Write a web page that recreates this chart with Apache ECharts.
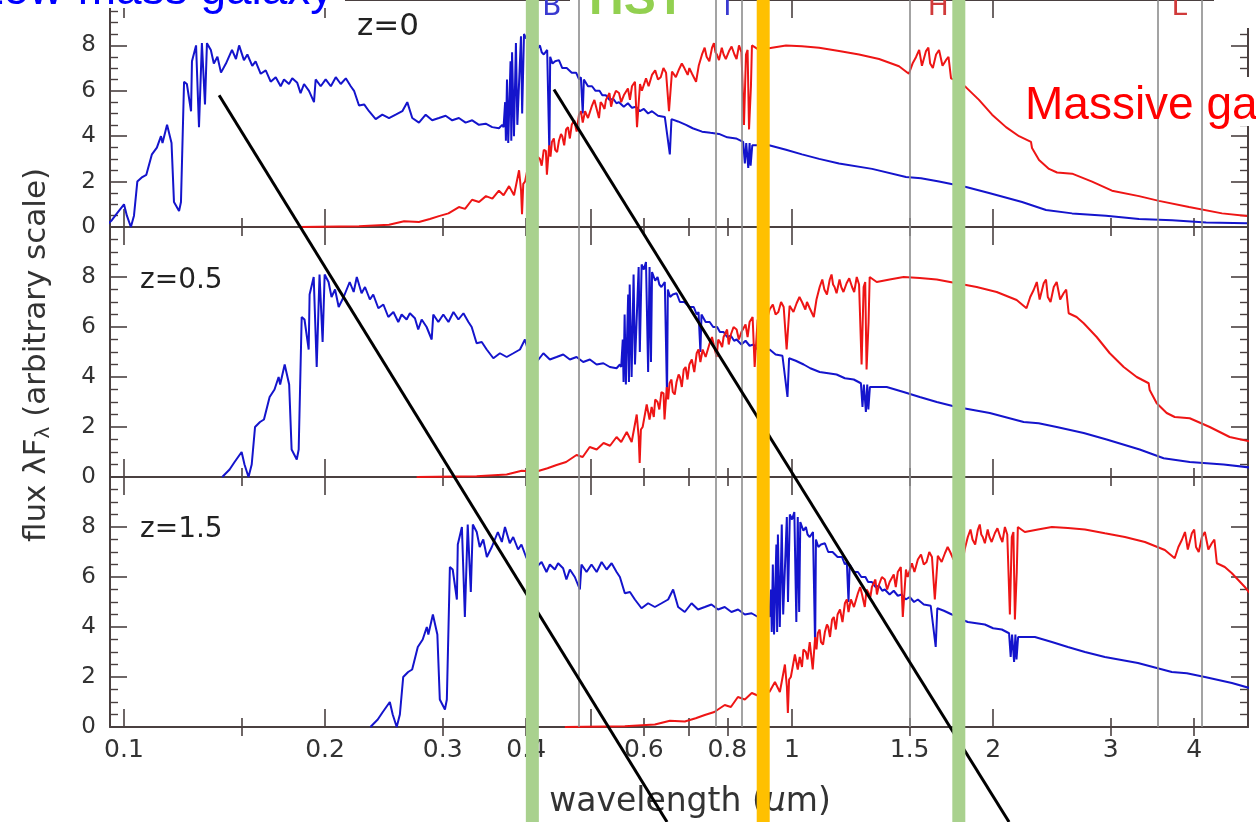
<!DOCTYPE html>
<html><head><meta charset="utf-8">
<script src="https://cdn.jsdelivr.net/npm/echarts@6/dist/echarts.min.js"></script>
<style>html,body{margin:0;padding:0;background:#fff}#c{width:1256px;height:822px}</style>
</head><body><div id="c"></div>
<script>
// ---------- data ----------
const xTickMajor = [0.1, 0.2, 0.5, 1, 2];
const xTickMinor = [0.15, 0.3, 0.4, 0.6, 0.7, 0.8, 0.9, 1.5, 3, 4];
const xTickLabels = [0.1, 0.2, 0.3, 0.4, 0.6, 0.8, 1, 1.5, 2, 3, 4];
const yTickLabels = [0, 2, 4, 6, 8];
const filterEdges = [0.480, 0.767, 0.836, 1.502, 3.53, 4.11];
const panelLabels = ['z=0', 'z=0.5', 'z=1.5'];
const bandLetters = [['B', 0.437], ['I', 0.800], ['H', 1.655], ['L', 3.80]];

// low-mass galaxy flux (same in all three panels)
const blueFlux = [
0.0,0.3,0.6,1.0,0.5,0.0,0.5,2.0,2.2,2.3,
3.2,3.5,4.0,3.7,4.5,3.7,1.1,0.7,1.1,6.4,
6.3,5.1,7.3,8.0,4.4,8.1,5.4,8.1,7.8,7.2,
7.5,6.8,7.2,7.8,7.4,8.0,7.35,7.6,7.1,7.3,
6.75,6.9,6.4,6.6,6.2,6.5,6.3,6.55,6.35,5.9,
6.3,6.0,5.5,6.5,6.2,6.5,6.2,6.6,6.3,6.55,
6.2,6.0,5.35,5.4,5.1,4.75,4.95,4.8,4.95,5.1,
5.5,4.8,4.6,4.95,4.7,4.8,4.9,4.7,4.8,4.6,
4.7,4.5,4.55,4.4,4.35,4.5,4.4,5.5,3.8,6.5,
3.7,7.3,3.8,7.7,4.0,8.1,4.5,8.4,5.0,8.5,
8.3,8.6,4.2,8.4,4.6,8.2,7.85,8.0,7.7,7.6,
7.8,3.2,7.5,7.2,7.3,7.35,7.0,7.0,6.8,6.8,
6.5,6.6,5.0,6.5,6.2,6.2,6.0,6.0,5.8,5.8,
5.6,5.65,5.45,5.5,5.3,5.45,5.25,5.3,5.1,5.2,
5.0,5.1,4.9,4.85,3.2,4.75,4.65,4.5,4.35,4.2,
4.15,4.1,3.95,3.9,3.75,2.8,3.7,2.6,3.7,2.7,
3.6,3.6,3.4,3.2,3.0,2.8,2.56,2.2,2.15,2.0,
1.76,1.5,1.1,0.75,0.6,0.5,0.35,0.3,0.2,0.17];
const blueWaveZ0 = [
0.0935,0.0959,0.0976,0.1000,0.1010,0.1024,0.1035,0.1047,0.1065,0.1080,
0.1101,0.1120,0.1136,0.1142,0.1160,0.1178,0.1188,0.1209,0.1217,0.1230,
0.1242,0.1260,0.1264,0.1282,0.1295,0.1308,0.1322,0.1331,0.1349,0.1363,
0.1380,0.1397,0.1421,0.1451,0.1471,0.1487,0.1512,0.1530,0.1556,0.1574,
0.1602,0.1630,0.1658,0.1687,0.1716,0.1736,0.1766,0.1786,0.1817,0.1838,
0.1860,0.1892,0.1925,0.1936,0.1970,0.2004,0.2040,0.2075,0.2111,0.2148,
0.2185,0.2210,0.2248,0.2288,0.2327,0.2381,0.2436,0.2493,0.2551,0.2610,
0.2655,0.2701,0.2764,0.2829,0.2893,0.2961,0.3030,0.3100,0.3172,0.3246,
0.3321,0.3399,0.3479,0.3558,0.3641,0.3683,0.3700,0.3720,0.3730,0.3744,
0.3760,0.3790,0.3800,0.3810,0.3835,0.3861,0.3880,0.3929,0.3945,0.3970,
0.4000,0.4030,0.4060,0.4080,0.4100,0.4115,0.4160,0.4194,0.4220,0.4250,
0.4300,0.4333,0.4345,0.4380,0.4420,0.4478,0.4530,0.4600,0.4680,0.4751,
0.4800,0.4830,0.4861,0.4880,0.4950,0.5019,0.5080,0.5150,0.5200,0.5266,
0.5330,0.5400,0.5460,0.5508,0.5600,0.5680,0.5760,0.5840,0.5920,0.6000,
0.6090,0.6171,0.6300,0.6450,0.6563,0.6600,0.6750,0.6939,0.7100,0.7333,
0.7550,0.7775,0.8000,0.8244,0.8450,0.8500,0.8540,0.8600,0.8640,0.8670,
0.8720,0.9239,0.9795,1.035,1.098,1.176,1.318,1.481,1.560,1.660,
1.822,1.972,2.210,2.400,2.626,2.951,3.307,3.707,4.168,4.799];
const blueWaveZ05 = [
0.1403,0.1439,0.1464,0.1500,0.1515,0.1536,0.1553,0.1571,0.1598,0.1620,
0.1652,0.1680,0.1704,0.1713,0.1740,0.1767,0.1782,0.1814,0.1826,0.1845,
0.1863,0.1890,0.1896,0.1923,0.1943,0.1962,0.1983,0.1997,0.2024,0.2045,
0.2070,0.2096,0.2132,0.2177,0.2207,0.2231,0.2268,0.2295,0.2334,0.2361,
0.2403,0.2445,0.2487,0.2531,0.2574,0.2604,0.2649,0.2679,0.2726,0.2757,
0.2790,0.2838,0.2888,0.2904,0.2955,0.3006,0.3060,0.3113,0.3167,0.3222,
0.3278,0.3315,0.3372,0.3432,0.3491,0.3572,0.3654,0.3740,0.3827,0.3915,
0.3983,0.4052,0.4146,0.4244,0.4340,0.4442,0.4545,0.4650,0.4758,0.4869,
0.4982,0.5099,0.5219,0.5337,0.5462,0.5525,0.5550,0.5580,0.5595,0.5616,
0.5640,0.5685,0.5700,0.5715,0.5753,0.5792,0.5820,0.5894,0.5918,0.5955,
0.6000,0.6045,0.6090,0.6120,0.6150,0.6173,0.6240,0.6291,0.6330,0.6375,
0.6450,0.6500,0.6518,0.6570,0.6630,0.6717,0.6795,0.6900,0.7020,0.7127,
0.7200,0.7245,0.7292,0.7320,0.7425,0.7529,0.7620,0.7725,0.7800,0.7899,
0.7995,0.8100,0.8190,0.8262,0.8400,0.8520,0.8640,0.8760,0.8880,0.9000,
0.9135,0.9257,0.9450,0.9675,0.9845,0.9900,1.013,1.041,1.065,1.100,
1.133,1.166,1.200,1.237,1.268,1.275,1.281,1.290,1.296,1.301,
1.308,1.386,1.469,1.553,1.647,1.764,1.977,2.222,2.340,2.490,
2.733,2.958,3.315,3.600,3.939,4.427,4.961,5.561,6.252,7.199];
const blueWaveZ15 = [
0.2338,0.2398,0.2440,0.2500,0.2525,0.2560,0.2588,0.2618,0.2663,0.2700,
0.2753,0.2800,0.2840,0.2855,0.2900,0.2945,0.2970,0.3023,0.3043,0.3075,
0.3105,0.3150,0.3160,0.3205,0.3238,0.3270,0.3305,0.3328,0.3373,0.3408,
0.3450,0.3493,0.3553,0.3628,0.3678,0.3718,0.3780,0.3825,0.3890,0.3935,
0.4005,0.4075,0.4145,0.4218,0.4290,0.4340,0.4415,0.4465,0.4543,0.4595,
0.4650,0.4730,0.4813,0.4840,0.4925,0.5010,0.5100,0.5188,0.5278,0.5370,
0.5463,0.5525,0.5620,0.5720,0.5818,0.5953,0.6090,0.6233,0.6378,0.6525,
0.6638,0.6753,0.6910,0.7073,0.7233,0.7403,0.7575,0.7750,0.7930,0.8115,
0.8303,0.8498,0.8698,0.8895,0.9103,0.9208,0.9250,0.9300,0.9325,0.9360,
0.9400,0.9475,0.9500,0.9525,0.9588,0.9653,0.9700,0.9823,0.9863,0.9925,
1.000,1.008,1.015,1.020,1.025,1.029,1.040,1.049,1.055,1.063,
1.075,1.083,1.086,1.095,1.105,1.120,1.133,1.150,1.170,1.188,
1.200,1.208,1.215,1.220,1.238,1.255,1.270,1.288,1.300,1.317,
1.333,1.350,1.365,1.377,1.400,1.420,1.440,1.460,1.480,1.500,
1.523,1.543,1.575,1.613,1.641,1.650,1.688,1.735,1.775,1.833,
1.888,1.944,2.000,2.061,2.113,2.125,2.135,2.150,2.160,2.168,
2.180,2.310,2.449,2.588,2.745,2.940,3.295,3.703,3.900,4.150,
4.555,4.930,5.525,6.000,6.565,7.378,8.268,9.268,10.42,12.00];

// massive galaxy flux (same in all three panels)
const redFlux = [
0.0,0.03,0.1,0.25,0.22,0.35,0.48,0.6,0.88,0.8,
1.2,1.1,1.36,1.25,1.6,1.4,1.8,1.4,2.5,1.6,
0.56,1.9,2.0,2.9,2.3,2.8,2.4,3.1,3.0,2.7,
3.4,3.35,2.3,3.6,3.1,3.75,3.9,3.4,3.3,3.8,
4.1,4.0,3.6,4.3,4.4,3.9,4.5,4.7,4.2,4.95,
5.1,4.6,5.1,4.8,5.35,5.6,5.3,4.8,5.5,5.4,
5.2,5.6,5.9,5.3,5.7,6.0,5.9,5.5,5.8,6.1,
5.6,6.2,6.4,4.4,6.3,6.0,6.55,6.2,6.7,6.9,
6.5,6.6,7.0,6.8,5.1,6.85,6.6,6.95,7.2,7.0,
6.7,7.0,6.75,6.4,7.1,7.6,7.9,7.5,7.3,7.9,
8.1,7.7,7.6,7.35,7.9,7.6,7.4,7.75,7.95,7.6,
7.4,8.0,7.7,4.5,7.6,7.8,4.3,6.2,8.0,7.8,
7.9,8.0,7.96,7.9,7.75,7.6,7.4,7.08,6.75,7.2,
7.48,7.8,7.1,7.75,7.9,7.2,7.0,7.6,7.8,7.1,
7.35,7.5,6.55,6.4,6.15,5.6,4.95,4.4,4.0,3.75,
3.48,2.95,2.56,2.4,2.35,2.0,1.6,1.36,1.15,0.88,
0.6,0.48];
const redWaveZ0 = [
0.1828,0.2248,0.2493,0.2626,0.2764,0.2870,0.2961,0.3060,0.3172,0.3240,
0.3319,0.3400,0.3482,0.3560,0.3641,0.3700,0.3771,0.3836,0.3903,0.3930,
0.3943,0.3960,0.3984,0.4040,0.4080,0.4109,0.4140,0.4160,0.4194,0.4220,
0.4250,0.4281,0.4296,0.4330,0.4350,0.4371,0.4400,0.4420,0.4450,0.4478,
0.4510,0.4530,0.4560,0.4590,0.4620,0.4650,0.4680,0.4720,0.4760,0.4799,
0.4830,0.4861,0.4900,0.4950,0.5019,0.5060,0.5090,0.5141,0.5170,0.5200,
0.5240,0.5266,0.5330,0.5360,0.5400,0.5450,0.5508,0.5550,0.5600,0.5680,
0.5720,0.5760,0.5820,0.5861,0.5922,0.5960,0.6046,0.6100,0.6171,0.6240,
0.6300,0.6360,0.6420,0.6478,0.6544,0.6612,0.6700,0.6775,0.6840,0.6900,
0.6980,0.7020,0.7085,0.7184,0.7250,0.7333,0.7400,0.7450,0.7520,0.7591,
0.7640,0.7680,0.7720,0.7775,0.7850,0.7900,0.7960,0.8049,0.8120,0.8200,
0.8260,0.8330,0.8400,0.8474,0.8533,0.8580,0.8623,0.8680,0.8710,0.8925,
0.9334,0.9795,1.035,1.098,1.176,1.260,1.350,1.446,1.496,1.515,
1.533,1.550,1.565,1.587,1.600,1.610,1.625,1.643,1.660,1.680,
1.700,1.715,1.730,1.778,1.822,1.905,1.993,2.091,2.187,2.279,
2.287,2.343,2.425,2.493,2.626,2.813,3.013,3.307,3.542,3.929,
4.403,4.799];
const redWaveZ05 = [
0.2742,0.3372,0.3740,0.3939,0.4146,0.4305,0.4442,0.4590,0.4758,0.4860,
0.4979,0.5100,0.5223,0.5340,0.5462,0.5550,0.5657,0.5754,0.5855,0.5895,
0.5915,0.5940,0.5976,0.6060,0.6120,0.6164,0.6210,0.6240,0.6291,0.6330,
0.6375,0.6422,0.6444,0.6495,0.6525,0.6557,0.6600,0.6630,0.6675,0.6717,
0.6765,0.6795,0.6840,0.6885,0.6930,0.6975,0.7020,0.7080,0.7140,0.7199,
0.7245,0.7292,0.7350,0.7425,0.7529,0.7590,0.7635,0.7712,0.7755,0.7800,
0.7860,0.7899,0.7995,0.8040,0.8100,0.8175,0.8262,0.8325,0.8400,0.8520,
0.8580,0.8640,0.8730,0.8792,0.8883,0.8940,0.9069,0.9150,0.9257,0.9360,
0.9450,0.9540,0.9630,0.9717,0.9816,0.9918,1.005,1.016,1.026,1.035,
1.047,1.053,1.063,1.078,1.088,1.100,1.110,1.118,1.128,1.139,
1.146,1.152,1.158,1.166,1.178,1.185,1.194,1.207,1.218,1.230,
1.239,1.250,1.260,1.271,1.280,1.287,1.293,1.302,1.307,1.339,
1.400,1.469,1.553,1.647,1.764,1.890,2.025,2.169,2.244,2.273,
2.300,2.325,2.348,2.381,2.400,2.415,2.438,2.465,2.490,2.520,
2.550,2.573,2.595,2.667,2.733,2.858,2.990,3.137,3.281,3.419,
3.431,3.515,3.638,3.740,3.939,4.220,4.520,4.961,5.313,5.894,
6.605,7.199];
const redWaveZ15 = [
0.4570,0.5620,0.6233,0.6565,0.6910,0.7175,0.7403,0.7650,0.7930,0.8100,
0.8298,0.8500,0.8705,0.8900,0.9103,0.9250,0.9428,0.9590,0.9758,0.9825,
0.9858,0.9900,0.9960,1.010,1.020,1.027,1.035,1.040,1.049,1.055,
1.063,1.070,1.074,1.083,1.088,1.093,1.100,1.105,1.113,1.120,
1.128,1.133,1.140,1.148,1.155,1.163,1.170,1.180,1.190,1.200,
1.208,1.215,1.225,1.238,1.255,1.265,1.273,1.285,1.293,1.300,
1.310,1.317,1.333,1.340,1.350,1.363,1.377,1.388,1.400,1.420,
1.430,1.440,1.455,1.465,1.481,1.490,1.512,1.525,1.543,1.560,
1.575,1.590,1.605,1.620,1.636,1.653,1.675,1.694,1.710,1.725,
1.745,1.755,1.771,1.796,1.813,1.833,1.850,1.863,1.880,1.898,
1.910,1.920,1.930,1.944,1.963,1.975,1.990,2.012,2.030,2.050,
2.065,2.083,2.100,2.119,2.133,2.145,2.156,2.170,2.178,2.231,
2.334,2.449,2.588,2.745,2.940,3.150,3.375,3.615,3.740,3.788,
3.833,3.875,3.913,3.968,4.000,4.025,4.063,4.108,4.150,4.200,
4.250,4.288,4.325,4.445,4.555,4.763,4.983,5.228,5.468,5.698,
5.718,5.858,6.063,6.233,6.565,7.033,7.533,8.268,8.855,9.823,
11.01,12.00];

// annotations (wavelength, stacked-flux units of the overlay)
const diagonalA = [[0.1388, 26.08], [0.650, -3.8]];
const diagonalB = [[0.4402, 26.32], [2.113, -3.8]];
const bandBars = [[0.4086, 'green'], [0.9055, 'orange'], [1.777, 'green']];

// ---------- chart ----------
const X_MIN = 0.09529, X_MAX = 4.815;
const AX = '#4a4040';
const FONT = 'DejaVu Sans';
const blueWaves = [blueWaveZ0, blueWaveZ05, blueWaveZ15];
const redWaves = [redWaveZ0, redWaveZ05, redWaveZ15];
const zip = (xs, ys) => xs.map((x, i) => [x, ys[i]]);

const grid = [];
const xAxis = [];
const yAxis = [];
const series = [];
const panelTop = [-23, 227, 477];

panelTop.forEach((top, p) => {
  grid.push({left: 110, right: 8, top: top, height: 250});
  ['bottom', 'top'].forEach(pos => {
    xAxis.push({
      gridIndex: p, type: 'log', min: X_MIN, max: X_MAX, position: pos,
      axisLine: {show: true, onZero: false, lineStyle: {color: AX, width: 2}},
      axisTick: {show: true, inside: true, length: 18, customValues: xTickMajor, lineStyle: {color: AX, width: 1.6}},
      axisLabel: {show: p === 2 && pos === 'bottom', customValues: xTickLabels,
        formatter: v => String(+(+v).toPrecision(3)),
        fontFamily: FONT, fontSize: 25, color: '#333', margin: 11},
      splitLine: {show: false}
    });
    xAxis.push({
      gridIndex: p, type: 'log', min: X_MIN, max: X_MAX, position: pos,
      axisLine: {show: false},
      axisTick: {show: true, inside: true, length: 9, customValues: xTickMinor, lineStyle: {color: AX, width: 1.6}},
      axisLabel: {show: false},
      splitLine: {show: false}
    });
  });
  ['left', 'right'].forEach(pos => {
    yAxis.push({
      gridIndex: p, type: 'value', min: 0, max: 10, interval: 2, position: pos,
      axisLine: {show: true, lineStyle: {color: AX, width: 2}},
      axisTick: {show: true, inside: true, length: 17, lineStyle: {color: AX, width: 1.6}},
      minorTick: {show: true, splitNumber: 4, length: 8, lineStyle: {color: AX, width: 1.4}},
      axisLabel: {show: pos === 'left', customValues: yTickLabels, fontFamily: FONT, fontSize: 23, color: '#333', margin: 14},
      splitLine: {show: false}
    });
  });
  series.push({
    name: 'Low-mass galaxy ' + panelLabels[p], type: 'line', xAxisIndex: p * 4, yAxisIndex: p * 2,
    data: zip(blueWaves[p], blueFlux), symbol: 'none', showSymbol: false, z: 3,
    lineStyle: {color: '#1414cc', width: 2.0}, itemStyle: {color: '#1414cc'},
    markLine: {silent: true, symbol: ['none', 'none'], label: {show: false}, animation: false,
      lineStyle: {color: '#8c8c8c', width: 1.6, type: 'solid'},
      data: filterEdges.map(v => ({xAxis: v}))}
  });
  series.push({
    name: 'Massive galaxy ' + panelLabels[p], type: 'line', xAxisIndex: p * 4, yAxisIndex: p * 2,
    data: zip(redWaves[p], redFlux), symbol: 'none', showSymbol: false, z: 4,
    lineStyle: {color: '#ee1515', width: 2.0}, itemStyle: {color: '#ee1515'}
  });
});

// overlay spanning the whole figure
grid.push({left: 110, right: 8, top: -23, height: 845});
xAxis.push({gridIndex: 3, type: 'log', min: X_MIN, max: X_MAX, show: false});
yAxis.push({gridIndex: 3, type: 'value', min: -3.8, max: 30, show: false});
[diagonalA, diagonalB].forEach((d, i) => series.push({
  name: 'diag' + i, type: 'line', xAxisIndex: 12, yAxisIndex: 6, data: d, symbol: 'none', z: 10,
  clip: false, silent: true, lineStyle: {color: '#000', width: 3}
}));
bandBars.forEach((b, i) => series.push({
  name: 'band' + i, type: 'line', xAxisIndex: 12, yAxisIndex: 6, data: [[b[0], -3.8], [b[0], 30]],
  symbol: 'none', z: 20, clip: false, silent: true,
  lineStyle: {color: b[1] === 'green' ? '#A9D18E' : '#FFC000', width: 13, cap: 'butt'}
}));

const txt = (text, x, y, font, fill, align, extra) => Object.assign({
  type: 'text', x: x, y: y, z: 6, silent: true,
  style: {text: text, font: font, fill: fill, align: align || 'left', verticalAlign: 'middle',
    textAlign: align || 'left', textVerticalAlign: 'middle'}
}, extra || {});
const rect = (x, y, w, h) => ({type: 'rect', z: 5, silent: true, shape: {x: x, y: y, width: w, height: h}, style: {fill: '#fff'}});

const graphic = [
  rect(-5, -10, 350, 18),
  rect(570, -10, 157, 40),
  rect(1020, 77, 240, 49),
  rect(1214, -10, 50, 38),
  txt('Low-mass galaxy', -22, -9, '46px "Liberation Sans"', '#0000ff'),
  txt('HST', 589, 1, 'bold 48px "Liberation Sans"', '#92D050'),
  txt('Massive galaxy', 1025, 106, '46px "Liberation Sans"', '#ff0000'),
  txt(panelLabels[0], 357, 27, '31px "' + FONT + '"', '#222'),
  txt(panelLabels[1], 140, 281, '28px "' + FONT + '"', '#222'),
  txt(panelLabels[2], 140, 530, '28px "' + FONT + '"', '#222'),
  {type: 'text', x: 37, y: 355, rotation: Math.PI / 2, z: 6, silent: true,
    style: {text: 'flux λF{s|λ} (arbitrary scale)', font: '31px "' + FONT + '"', fill: '#333',
      align: 'center', verticalAlign: 'middle', textAlign: 'center', textVerticalAlign: 'middle',
      rich: {s: {fontSize: 20, fontFamily: FONT, fill: '#333', padding: [14, 0, 0, 0]}}}},
  {type: 'text', x: 690, y: 802, z: 6, silent: true,
    style: {text: 'wavelength ({i|μ}m)', font: '33px "' + FONT + '"', fill: '#333',
      align: 'center', verticalAlign: 'middle', textAlign: 'center', textVerticalAlign: 'middle',
      rich: {i: {fontStyle: 'italic', fontSize: 33, fontFamily: FONT, fill: '#333'}}}}
];

const chart = echarts.init(document.getElementById('c'), null, {renderer: 'canvas'});
chart.setOption({
  animation: false,
  backgroundColor: '#fff',
  grid: grid, xAxis: xAxis, yAxis: yAxis, series: series, graphic: graphic
});

// band letters placed via the overlay coordinate system
const letterColors = {B: '#3a3ad0', I: '#3a3ad0', H: '#d03a3a', L: '#d03a3a'};
const extra = bandLetters.map(b => {
  const pt = chart.convertToPixel({xAxisIndex: 12, yAxisIndex: 6}, [b[1], 29.6]);
  return txt(b[0], pt[0], 8, '28px "' + FONT + '"', letterColors[b[0]], 'center');
});
chart.setOption({graphic: graphic.concat(extra)});
</script></body></html>
